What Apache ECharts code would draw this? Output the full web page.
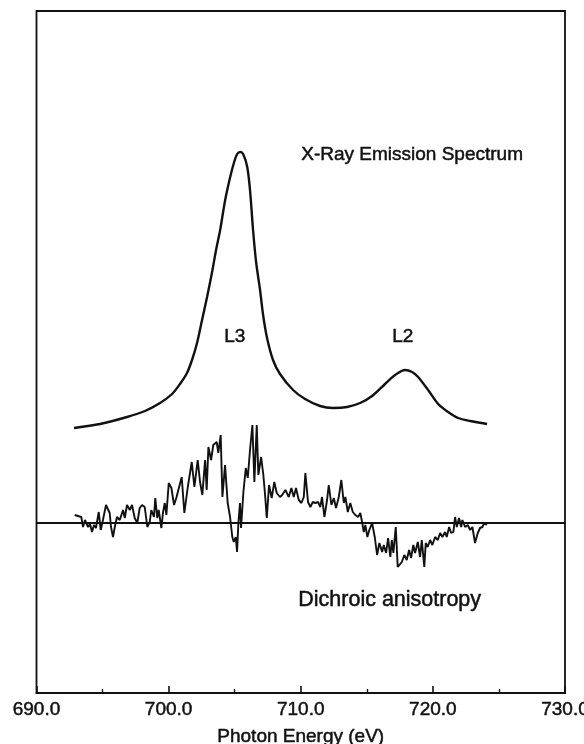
<!DOCTYPE html>
<html>
<head>
<meta charset="utf-8">
<script src="https://cdn.jsdelivr.net/npm/echarts@6/dist/echarts.min.js"></script>
<style>
  html, body { margin: 0; padding: 0; background: #fff; overflow: hidden; }
  #chart { width: 584px; height: 744px; }
</style>
</head>
<body>
<div id="chart"></div>
<script>
// ---- data (arbitrary intensity units) ----
const xTickLabels = ['690.0', '700.0', '710.0', '720.0', '730.0'];
const baselineEnergy = [690, 730];
const baselineValue = [0, 0];

const emissionEnergy = [
  692.84, 694.81, 696.85, 698.21, 699.35, 700.26, 700.86, 701.39, 701.77, 702.15,
  702.53, 702.91, 703.29, 703.59, 703.90, 704.28, 704.66, 704.96, 705.19, 705.42,
  705.64, 705.95, 706.16, 706.39, 706.62, 706.92, 707.15, 707.45, 707.90, 708.43,
  709.42, 710.33, 711.46, 712.45, 713.51, 714.49, 715.40, 716.38, 717.14, 717.90,
  718.43, 718.88, 719.64, 720.40, 721.15, 721.91, 722.82, 724.10
];
const emissionIntensity = [
  95, 99, 106, 112, 120, 129, 139, 150, 163, 180,
  203, 226, 251, 273, 293, 323, 346, 361, 369, 371,
  369, 356, 333, 293, 261, 233, 208, 185, 163, 149,
  133, 124, 117, 115, 116, 120, 127, 139, 148, 153,
  151, 146, 133, 119, 111, 105, 102, 99
];

const dichroEnergy = [
  692.89, 693.39, 693.52, 693.67, 693.90, 694.05, 694.20, 694.35, 694.50, 694.71,
  694.86, 695.03, 695.26, 695.54, 695.64, 695.79, 695.94, 696.09, 696.30, 696.55,
  696.68, 696.85, 697.06, 697.23, 697.43, 697.63, 697.81, 697.99, 698.19, 698.39,
  698.57, 698.69, 698.89, 698.99, 699.14, 699.25, 699.45, 699.58, 699.71, 699.83,
  700.01, 700.21, 700.41, 700.58, 700.73, 700.99, 701.19, 701.45, 701.75, 701.95,
  702.20, 702.38, 702.55, 702.76, 702.88, 703.01, 703.21, 703.38, 703.64, 703.76,
  703.94, 704.07, 704.27, 704.47, 704.65, 704.82, 704.93, 705.08, 705.18, 705.28,
  705.40, 705.48, 705.66, 705.84, 705.99, 706.16, 706.34, 706.49, 706.67, 706.79,
  707.00, 707.17, 707.30, 707.43, 707.60, 707.80, 708.00, 708.18, 708.43, 708.59,
  708.84, 709.09, 709.29, 709.47, 709.64, 709.85, 710.05, 710.23, 710.35, 710.55,
  710.73, 710.91, 711.11, 711.31, 711.48, 711.61, 711.79, 711.99, 712.12, 712.32,
  712.50, 712.67, 712.88, 713.07, 713.26, 713.38, 713.56, 713.75, 713.94, 714.13,
  714.34, 714.51, 714.64, 714.77, 714.89, 715.04, 715.19, 715.40, 715.60, 715.78,
  715.95, 716.16, 716.28, 716.46, 716.61, 716.78, 716.89, 717.01, 717.19, 717.34,
  717.65, 717.84, 718.02, 718.20, 718.35, 718.52, 718.65, 718.86, 719.03, 719.16,
  719.35, 719.46, 719.61, 719.79, 719.96, 720.17, 720.37, 720.55, 720.72, 720.92,
  721.05, 721.23, 721.38, 721.55, 721.68, 721.81, 721.98, 722.14, 722.23, 722.44,
  722.64, 722.82, 722.99, 723.19, 723.40, 723.57, 723.75, 723.90, 724.08
];
const dichroSignal = [
  8, 6, -4, 3, -4, -1, -9, -2, -5, 11,
  -7, 3, 18, 10, -4, -14, -3, 6, 3, 13,
  5, 18, 13, 18, 5, 0, 15, 18, 16, -4,
  1, 13, 6, 25, 5, 13, -5, 11, 20, 8,
  40, 35, 18, 25, 23, 46, 10, 36, 61, 36,
  63, 41, 28, 63, 33, 76, 63, 78, 81, 70,
  88, 26, 58, 20, 6, -14, -19, -14, -29, 0,
  20, -5, 31, 55, 45, 73, 98, 41, 98, 48,
  66, 48, 28, 5, 38, 25, 41, 30, 26, 28,
  33, 26, 35, 26, 35, 23, 20, 26, 50, 21,
  16, 21, 20, 21, 16, 26, 6, 23, 38, 18,
  25, 15, 26, 43, 20, 26, 11, 20, 11, 8,
  6, 10, 1, -9, -2, -14, -7, 0, -14, -32,
  -20, -29, -22, -30, -15, -34, -17, -30, -4, -44,
  -39, -32, -37, -27, -35, -22, -30, -19, -34, -17,
  -44, -20, -24, -17, -22, -14, -17, -10, -14, -9,
  -14, -4, -10, -9, 6, -4, 5, -4, 3, -4,
  -2, -7, -4, -20, -10, -5, -4, 0, -2
];

// ---- chart ----
const FONT = '"Liberation Sans", Arial, Helvetica, sans-serif';
const INK = '#111';

const emissionData = emissionEnergy.map((e, i) => [e, emissionIntensity[i]]);
const dichroData = dichroEnergy.map((e, i) => [e, dichroSignal[i]]);
const baselineData = baselineEnergy.map((e, i) => [e, baselineValue[i]]);

const chart = echarts.init(document.getElementById('chart'), null, { renderer: 'canvas' });

const heavy = { textBorderColor: INK, textBorderWidth: 0.5 };

chart.setOption({
  animation: false,
  backgroundColor: '#fff',
  grid: {
    left: 36.5, right: 19, top: 11, bottom: 51,
    containLabel: false,
    outerBounds: { left: -60, right: -60, top: -60, bottom: -60 },
    show: true, borderColor: INK, borderWidth: 1.8, backgroundColor: 'transparent'
  },
  xAxis: {
    type: 'value',
    min: 690, max: 730, interval: 10,
    name: 'Photon Energy (eV)',
    nameLocation: 'middle',
    nameGap: 34,
    nameTextStyle: Object.assign({ fontFamily: FONT, fontSize: 19, color: INK }, heavy),
    axisLine: { show: true, onZero: false, lineStyle: { color: INK, width: 1.8 } },
    axisTick: { show: true, inside: true, length: 7, lineStyle: { color: INK, width: 1.6 } },
    minorTick: { show: true, splitNumber: 2, length: 4, lineStyle: { color: INK, width: 1.4 } },
    splitLine: { show: false },
    minorSplitLine: { show: false },
    axisLabel: Object.assign({
      margin: 7,
      fontFamily: FONT, fontSize: 19, color: INK,
      formatter: function (v) {
        const idx = Math.round((v - 690) / 10);
        return xTickLabels[idx] !== undefined ? xTickLabels[idx] : v.toFixed(1);
      }
    }, heavy)
  },
  yAxis: {
    type: 'value',
    min: -170, max: 512,
    show: false,
    splitLine: { show: false }
  },
  series: [
    {
      name: 'baseline',
      type: 'line',
      data: baselineData,
      showSymbol: false,
      lineStyle: { color: INK, width: 1.8 },
      z: 2
    },
    {
      name: 'X-Ray Emission Spectrum',
      type: 'line',
      data: emissionData,
      showSymbol: false,
      smooth: 0.3,
      lineStyle: { color: INK, width: 2.4 },
      z: 3
    },
    {
      name: 'Dichroic anisotropy',
      type: 'line',
      data: dichroData,
      showSymbol: false,
      smooth: false,
      lineStyle: { color: INK, width: 1.9 },
      z: 3
    }
  ],
  graphic: [
    { type: 'text', left: 301, top: 145, style: { text: 'X-Ray Emission Spectrum', font: '19px ' + FONT, fill: INK, stroke: INK, lineWidth: 0.5 } },
    { type: 'text', left: 224, top: 327, style: { text: 'L3', font: '19px ' + FONT, fill: INK, stroke: INK, lineWidth: 0.5 } },
    { type: 'text', left: 392, top: 327, style: { text: 'L2', font: '19px ' + FONT, fill: INK, stroke: INK, lineWidth: 0.5 } },
    { type: 'text', left: 298, top: 589, style: { text: 'Dichroic anisotropy', font: '21.5px ' + FONT, fill: INK, stroke: INK, lineWidth: 0.5 } }
  ]
});
</script>
</body>
</html>
